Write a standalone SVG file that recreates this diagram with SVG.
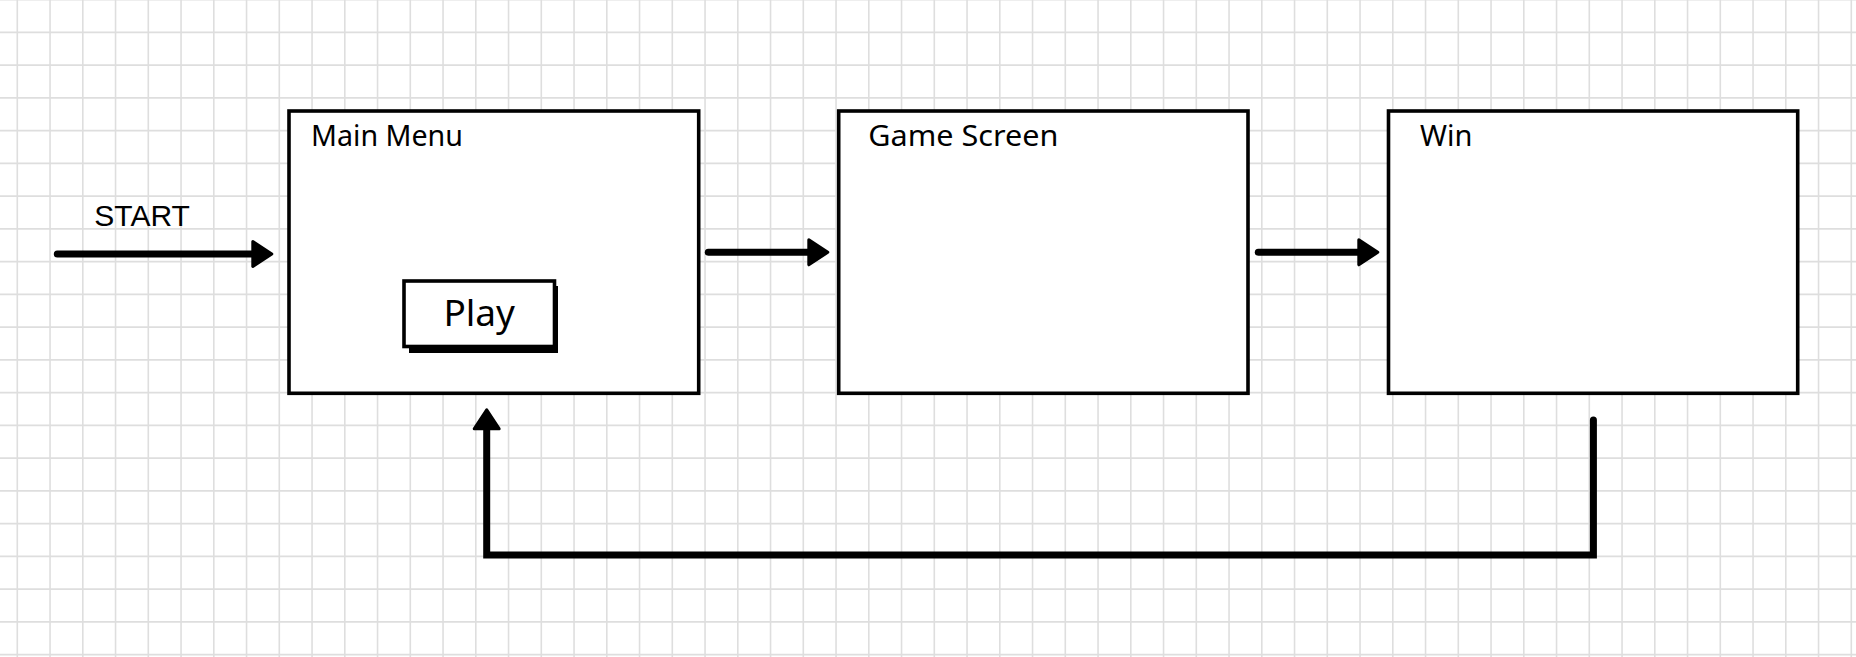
<svg xmlns="http://www.w3.org/2000/svg" width="1856" height="657" viewBox="0 0 1856 657">
<style>
.grid{stroke:#dedede;stroke-width:1.6;fill:none}
.box{fill:#ffffff;stroke:#000000;stroke-width:3.6}
.lbl{font-family:"Noto Sans","DejaVu Sans",sans-serif;font-size:29px;fill:#000000}
.start{font-family:"Liberation Sans",Arial,sans-serif;font-size:30px;fill:#000000}
.play{font-family:"Noto Sans","DejaVu Sans",sans-serif;font-size:37px;fill:#000000}
.conn{fill:none;stroke:#000000;stroke-width:7;stroke-linecap:round;stroke-linejoin:miter}
</style>
<defs>
<marker id="arrow" markerUnits="userSpaceOnUse" markerWidth="30" markerHeight="32" viewBox="0 0 30 32" refX="9" refY="16" orient="auto">
<path d="M3.5,3.5 L22.5,16 L3.5,28.5 Z" fill="#000000" stroke="#000000" stroke-width="3" stroke-linejoin="round"/>
</marker>
</defs>
<rect x="0" y="0" width="1856" height="657" fill="#ffffff"/>
<path class="grid" d="M17.3,0V657M50.05,0V657M82.8,0V657M115.55,0V657M148.3,0V657M181.05,0V657M213.8,0V657M246.55,0V657M279.3,0V657M312.05,0V657M344.8,0V657M377.55,0V657M410.3,0V657M443.05,0V657M475.8,0V657M508.55,0V657M541.3,0V657M574.05,0V657M606.8,0V657M639.55,0V657M672.3,0V657M705.05,0V657M737.8,0V657M770.55,0V657M803.3,0V657M836.05,0V657M868.8,0V657M901.55,0V657M934.3,0V657M967.05,0V657M999.8,0V657M1032.55,0V657M1065.3,0V657M1098.05,0V657M1130.8,0V657M1163.55,0V657M1196.3,0V657M1229.05,0V657M1261.8,0V657M1294.55,0V657M1327.3,0V657M1360.05,0V657M1392.8,0V657M1425.55,0V657M1458.3,0V657M1491.05,0V657M1523.8,0V657M1556.55,0V657M1589.3,0V657M1622.05,0V657M1654.8,0V657M1687.55,0V657M1720.3,0V657M1753.05,0V657M1785.8,0V657M1818.55,0V657M1851.3,0V657M0,-0.4H1856M0,32.35H1856M0,65.1H1856M0,97.85H1856M0,130.6H1856M0,163.35H1856M0,196.1H1856M0,228.85H1856M0,261.6H1856M0,294.35H1856M0,327.1H1856M0,359.85H1856M0,392.6H1856M0,425.35H1856M0,458.1H1856M0,490.85H1856M0,523.6H1856M0,556.35H1856M0,589.1H1856M0,621.85H1856M0,654.6H1856"/>
<g id="start-label">
<text class="start" x="94.3" y="225.7">START</text>
</g>
<g id="main-menu">
<rect class="box" x="289" y="111" width="409.7" height="282.3"/>
<text class="lbl" x="311" y="145.7" textLength="152" lengthAdjust="spacingAndGlyphs">Main Menu</text>
</g>
<g id="play-button">
<rect x="409" y="286" width="149" height="67" fill="#000000"/>
<rect class="box" x="404" y="281" width="150.5" height="65.5"/>
<text class="play" x="479.2" y="326" text-anchor="middle">Play</text>
</g>
<g id="game-screen">
<rect class="box" x="838.7" y="111" width="409.3" height="282.3"/>
<text class="lbl" x="868.3" y="145.7" textLength="190" lengthAdjust="spacingAndGlyphs">Game Screen</text>
</g>
<g id="win">
<rect class="box" x="1388.5" y="111" width="409.2" height="282.3"/>
<text class="lbl" x="1420" y="145.7">Win</text>
</g>
<g id="connectors">
<path class="conn" d="M57.3,254 H258.3" marker-end="url(#arrow)"/>
<path class="conn" d="M708.3,252.3 H814.3" marker-end="url(#arrow)"/>
<path class="conn" d="M1258.3,252.3 H1364.3" marker-end="url(#arrow)"/>
<path class="conn" d="M1593.4,420 V555 H486.7 V423.3" marker-end="url(#arrow)"/>
</g>
</svg>
